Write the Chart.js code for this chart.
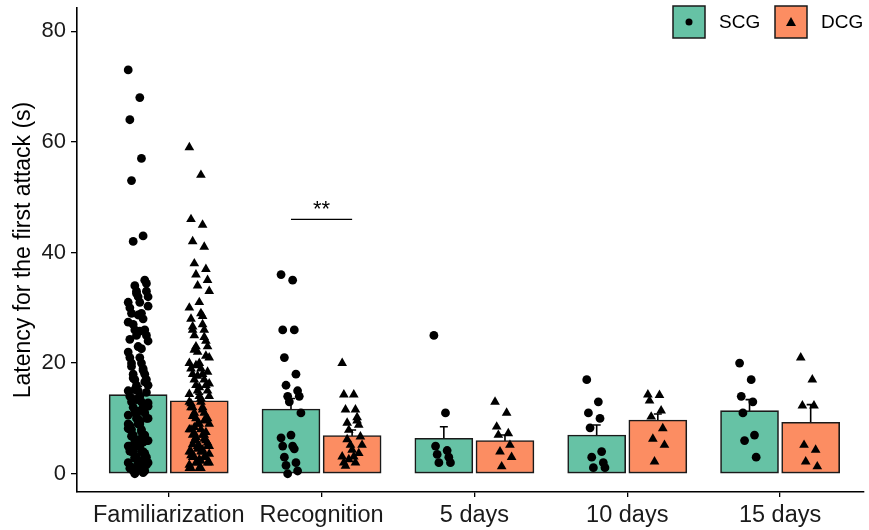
<!DOCTYPE html>
<html>
<head>
<meta charset="utf-8">
<script src="https://cdn.jsdelivr.net/npm/chart.js@4.4.0/dist/chart.umd.min.js"></script>
<style>
  html, body { margin: 0; padding: 0; background: #fff; }
  #wrap { width: 869px; height: 530px; }
</style>
</head>
<body>
<div id="wrap"><canvas id="chart" width="869" height="530"></canvas></div>
<script>
// categories and group summaries
var categories = ['Familiarization', 'Recognition', '5 days', '10 days', '15 days'];
var scgMean = [14.3, 11.7, 6.4, 7.0, 11.4];
var scgSE = [1.5, 1.9, 2.1, 1.8, 2.0];
var dcgMean = [13.2, 6.9, 6.0, 9.7, 9.3];
var dcgSE = [1.2, 1.0, 1.0, 1.1, 3.2];
var yTicks = [0, 20, 40, 60, 80];

// individual observations (s), one list per category
var scgPoints = [
    [73, 68, 64, 57, 53, 43, 42, 35, 34, 33, 33, 32, 32, 31, 31, 30, 29, 29, 28, 27, 26, 26, 25, 25, 24, 23, 22, 21, 21, 20, 20, 19, 18, 18, 17, 17, 16, 16, 15, 15, 14, 14, 13, 13, 12, 12, 11, 11, 10, 10, 10, 9, 9, 9, 8, 8, 8, 7, 7, 7, 6, 6, 6, 6, 5, 5, 5, 5, 4, 4, 4, 4, 3, 3, 3, 3, 2, 2, 2, 2, 1, 1, 1, 1, 0.5, 0.5, 0,
     34.4, 32.6, 30.3, 28.7, 27.4, 25.8, 24.3, 22.6, 19.4, 18.7, 17.3, 16.6, 15.2, 14.7, 13.4, 12.8, 11.3, 10.6, 9.4, 8.7, 7.6, 6.8, 5.7, 4.6, 3.7, 2.8, 1.6, 0.8, 12.2, 9.9, 8.2, 6.2, 4.1, 2.2, 1.2, 0.2],
    [36, 35, 26, 26, 21, 18, 16, 15, 14, 14, 13, 11, 7, 6.5, 5, 5, 4.5, 3, 2, 1.5, 0.5, 0],
    [25, 11, 5, 4.2, 3.5, 3, 2, 2],
    [17, 13, 11, 10, 8.3, 4, 3, 2, 1.1, 1.1],
    [20, 17, 14, 13, 11, 7, 6, 3]
];
var dcgPoints = [
    [59, 54, 46, 45, 42, 41, 38, 37, 36, 35, 34, 33, 31, 30, 29, 28, 27, 26, 26, 25, 24, 23, 23, 22, 21, 20, 20, 19, 19, 18, 18, 17, 17, 16, 16, 15, 15, 14, 14, 13, 13, 12, 12, 12, 11, 11, 10, 10, 10, 9, 9, 9, 8, 8, 8, 7, 7, 7, 6, 6, 6, 5, 5, 5, 5, 4, 4, 4, 4, 3, 3, 3, 3, 2, 2, 2, 2, 1, 1, 1, 1,
     28.5, 26.6, 24.7, 22.4, 21.3, 19.6, 18.4, 17.7, 16.3, 15.6, 14.4, 13.6, 12.7, 11.6, 10.4, 9.6, 8.4, 7.5, 6.6, 5.6, 4.5, 3.6, 2.6, 1.6, 2.3, 3.3, 4.3, 5.3, 6.3, 7.3],
    [20, 14.3, 14.3, 11.6, 11.6, 10.2, 9.2, 8.8, 7.9, 6.7, 5.2, 5.2, 4.3, 3.1, 3.1, 2, 2, 1.4, 9.6, 6.2, 3.7, 2.6],
    [13, 11, 8.5, 7.3, 7, 5.2, 4, 3, 1.3],
    [14.3, 14.2, 13.2, 11.4, 10.3, 8.2, 6.3, 5.2, 2.2],
    [21, 17, 12.3, 12.3, 5.2, 4.3, 2.2, 1.3]
];

// significance bracket
var sigCategory = [1];
var sigHeight = [46];
var sigLabel = ['**'];

var FONT = "'Liberation Sans', Arial, sans-serif";
var green = '#66C2A5';
var orange = '#FC8D62';
var dodge = 0.2;

// small deterministic spread so points don't sit on one line
function jitter(i) {
    return (((i * 7) % 13) - 6) / 6 * 0.065;
}

function pointsFor(groups, shift) {
    var out = [];
    groups.forEach(function (vals, c) {
        vals.forEach(function (v, i) {
            out.push({ x: c + shift + jitter(i), y: v });
        });
    });
    return out;
}

function barsFor(means, shift) {
    return means.map(function (m, c) { return { x: c + shift, y: m }; });
}

var errorBars = {
    id: 'errorBars',
    beforeDatasetsDraw: function (chart) {
        var ctx = chart.ctx, xs = chart.scales.x, ys = chart.scales.y;
        ctx.save();
        ctx.strokeStyle = '#000';
        ctx.lineWidth = 1.6;
        [[scgMean, scgSE, -dodge], [dcgMean, dcgSE, dodge]].forEach(function (g) {
            g[0].forEach(function (m, c) {
                var px = xs.getPixelForValue(c + g[2]);
                var y0 = ys.getPixelForValue(m - g[1][c]);
                var y1 = ys.getPixelForValue(m + g[1][c]);
                ctx.beginPath();
                ctx.moveTo(px, y0); ctx.lineTo(px, y1);
                ctx.moveTo(px - 4, y1); ctx.lineTo(px + 4, y1);
                ctx.stroke();
            });
        });
        ctx.restore();
    }
};

var annotations = {
    id: 'annotations',
    afterDatasetsDraw: function (chart) {
        var ctx = chart.ctx, xs = chart.scales.x, ys = chart.scales.y;
        ctx.save();
        sigCategory.forEach(function (c, k) {
            var x0 = xs.getPixelForValue(c - dodge);
            var x1 = xs.getPixelForValue(c + dodge);
            var y = ys.getPixelForValue(sigHeight[k]);
            ctx.strokeStyle = '#000';
            ctx.lineWidth = 1.3;
            ctx.beginPath(); ctx.moveTo(x0, y); ctx.lineTo(x1, y); ctx.stroke();
            ctx.fillStyle = '#000';
            ctx.font = '22px ' + FONT;
            ctx.textAlign = 'center';
            ctx.textBaseline = 'bottom';
            ctx.fillText(sigLabel[k], (x0 + x1) / 2, y + 2);
        });

        // legend: filled key boxes with the point marker inside
        var keys = [['SCG', green, 'circle', 673], ['DCG', orange, 'triangle', 775]];
        keys.forEach(function (k) {
            var bx = k[3], by = 6, s = 32;
            ctx.fillStyle = k[1];
            ctx.fillRect(bx, by, s, s);
            ctx.strokeStyle = '#1a1a1a';
            ctx.lineWidth = 1.5;
            ctx.strokeRect(bx, by, s, s);
            ctx.fillStyle = '#000';
            var cx = bx + s / 2, cy = by + s / 2;
            ctx.beginPath();
            if (k[2] === 'circle') {
                ctx.arc(cx, cy, 3.5, 0, Math.PI * 2);
            } else {
                ctx.moveTo(cx, cy - 5); ctx.lineTo(cx + 5, cy + 4); ctx.lineTo(cx - 5, cy + 4); ctx.closePath();
            }
            ctx.fill();
            ctx.font = '19px ' + FONT;
            ctx.textAlign = 'left';
            ctx.textBaseline = 'middle';
            ctx.fillText(k[0], bx + s + 14, cy + 1);
        });
        ctx.restore();
    }
};

new Chart(document.getElementById('chart').getContext('2d'), {
    type: 'bar',
    data: {
        datasets: [{
            label: 'SCG points',
            type: 'scatter',
            data: pointsFor(scgPoints, -dodge),
            pointStyle: 'circle',
            pointRadius: 4.4,
            backgroundColor: '#000',
            borderColor: '#000',
            borderWidth: 0,
            order: 1,
            clip: false
        }, {
            label: 'DCG points',
            type: 'scatter',
            data: pointsFor(dcgPoints, dodge),
            pointStyle: 'triangle',
            pointRadius: 5.6,
            backgroundColor: '#000',
            borderColor: '#000',
            borderWidth: 0,
            order: 1,
            clip: false
        }, {
            label: 'SCG',
            data: barsFor(scgMean, -dodge),
            backgroundColor: green,
            borderColor: '#1a1a1a',
            borderWidth: 1.6,
            borderSkipped: false,
            barThickness: 58,
            grouped: false,
            order: 2
        }, {
            label: 'DCG',
            data: barsFor(dcgMean, dodge),
            backgroundColor: orange,
            borderColor: '#1a1a1a',
            borderWidth: 1.6,
            borderSkipped: false,
            barThickness: 58,
            grouped: false,
            order: 2
        }]
    },
    options: {
        responsive: false,
        animation: false,
        devicePixelRatio: 1,
        layout: { padding: { top: 8, right: 0, bottom: 0, left: 0 } },
        plugins: {
            legend: { display: false },
            tooltip: { enabled: false }
        },
        scales: {
            x: {
                type: 'linear',
                offset: false,
                min: -0.6,
                max: 4.545,
                afterBuildTicks: function (scale) {
                    scale.ticks = categories.map(function (c, i) { return { value: i }; });
                },
                afterFit: function (scale) {
                    scale.height = 38;
                    scale.paddingLeft = 0;
                    scale.paddingRight = 0;
                },
                ticks: {
                    callback: function (v) { return categories[v]; },
                    font: { family: FONT, size: 23.5 },
                    color: '#1a1a1a',
                    padding: 4,
                    maxRotation: 0,
                    autoSkip: false
                },
                grid: { offset: false, drawOnChartArea: false, drawTicks: true, tickLength: 5, color: '#000', lineWidth: 1.3 },
                border: { display: true, color: '#000', width: 1.6 }
            },
            y: {
                min: -3.3,
                max: 84.2,
                afterBuildTicks: function (scale) {
                    scale.ticks = yTicks.map(function (v) { return { value: v }; });
                },
                afterFit: function (scale) {
                    scale.width = 77;
                    scale.paddingTop = 0;
                    scale.paddingBottom = 0;
                },
                ticks: {
                    font: { family: FONT, size: 22 },
                    color: '#1a1a1a',
                    padding: 5
                },
                grid: { drawOnChartArea: false, drawTicks: true, tickLength: 6, color: '#000', lineWidth: 1.3 },
                border: { display: true, color: '#000', width: 1.6 },
                title: {
                    display: true,
                    text: 'Latency for the first attack (s)',
                    font: { family: FONT, size: 23 },
                    color: '#000',
                    padding: { top: 10, bottom: 0 }
                }
            }
        }
    },
    plugins: [errorBars, annotations]
});
</script>
</body>
</html>
